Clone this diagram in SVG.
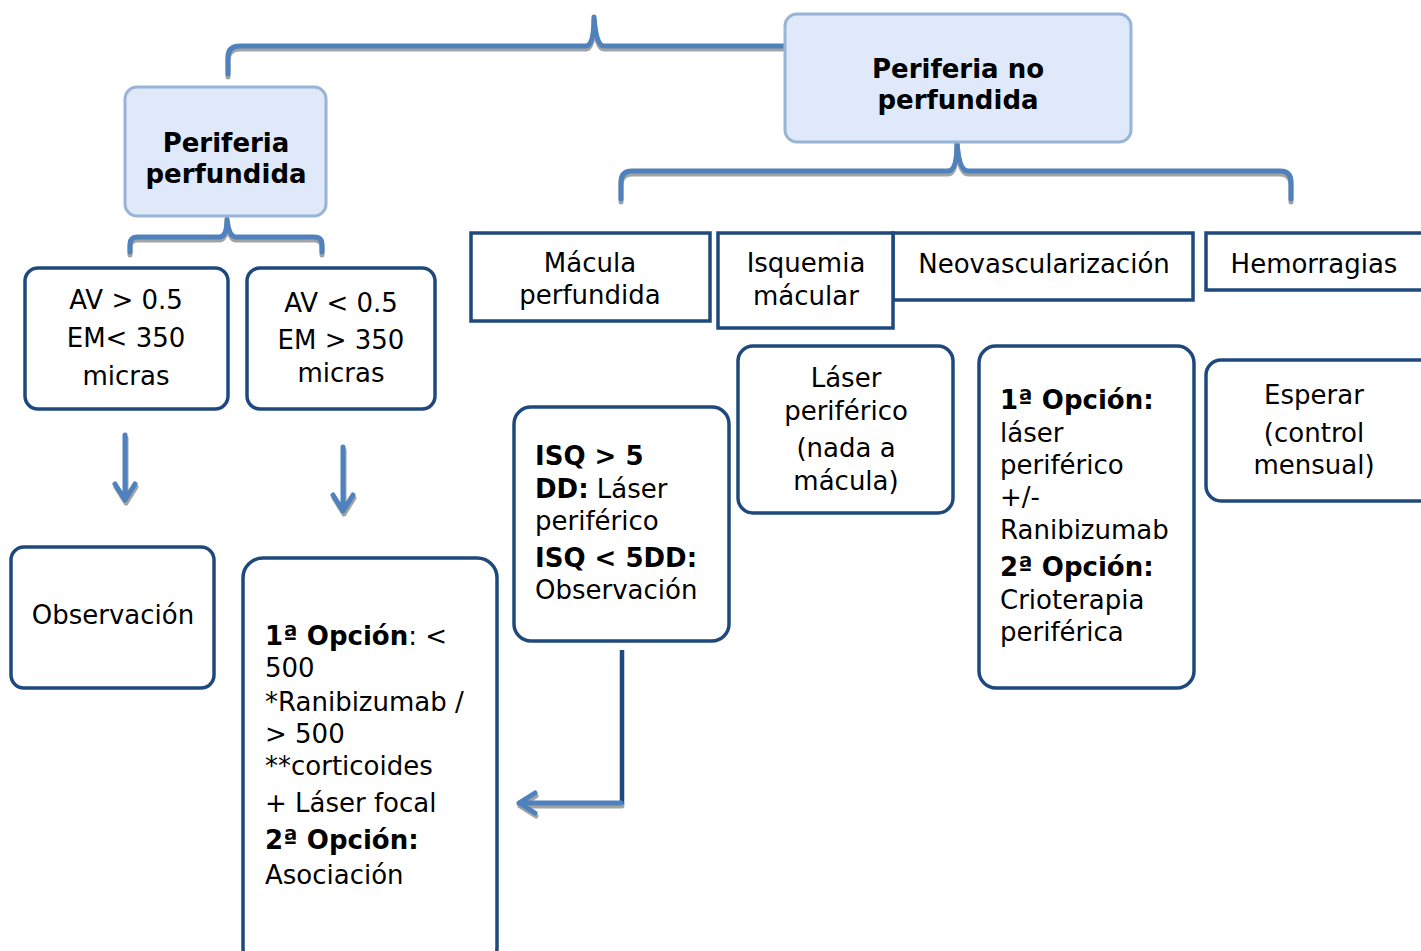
<svg xmlns="http://www.w3.org/2000/svg" width="1421" height="951" viewBox="0 0 1421 951">
<style>
text{font-family:"DejaVu Sans","Verdana",sans-serif;font-size:26px;fill:#000}
.b{font-weight:bold}
.c{text-anchor:middle}
.head{fill:#DFE9F9;stroke:#98B4D6;stroke-width:3}
.box{fill:#fff;stroke:#1F497D;stroke-width:3.5}
.ln{fill:none;stroke:#4F81BD;stroke-width:5;stroke-linecap:round;stroke-linejoin:round}
.sh{fill:none;stroke:#A3A3A3;stroke-width:5;stroke-linecap:round;stroke-linejoin:round}
.dk{fill:none;stroke:#1F497D;stroke-width:4.5}
</style>
<defs>
<path id="br1" d="M228,74 L228,57 Q228,46 240,46 L586,46 Q594,46 594,17 Q596,46 604,46 L786,46"/>
<path id="br2" d="M621,199 L621,182 Q621,171 632,171 L948,171 Q957,171 957,142 Q959,171 968,171 L1280,171 Q1291,171 1291,182 L1291,199"/>
<path id="br3" d="M130,252 L130,244 Q130,237 138,237 L219,237 Q227,237 227,219 Q229,237 236,237 L314,237 Q322,237 322,244 L322,252"/>
<path id="ar1" d="M125,435 L125,500 M115,484 L125,500 L135,484"/>
<path id="ar2" d="M343,447 L343,511 M333,495 L343,511 L353,495"/>
<path id="ar3" d="M621,803 L519,803 M535,793 L519,803 L535,813"/>
</defs>
<g id="connectors">
<use href="#br1" class="sh" transform="translate(0,3)"/>
<use href="#br1" class="ln"/>
<use href="#br2" class="sh" transform="translate(0,3)"/>
<use href="#br2" class="ln"/>
<use href="#br3" class="sh" transform="translate(0,3)"/>
<use href="#br3" class="ln"/>
<use href="#ar1" class="sh" transform="translate(1,3)"/>
<use href="#ar1" class="ln"/>
<use href="#ar2" class="sh" transform="translate(1,3)"/>
<use href="#ar2" class="ln"/>
<path class="dk" d="M622,650 L622,805"/>
<use href="#ar3" class="sh" transform="translate(1,3)"/>
<use href="#ar3" class="ln"/>
</g>
<g id="n-no-perf">
<rect class="head" x="785" y="14" width="346" height="128" rx="12"/>
<text class="b c" x="958" y="78">Periferia no</text>
<text class="b c" x="958" y="109">perfundida</text>
</g>
<g id="n-perf">
<rect class="head" x="125" y="87" width="201" height="129" rx="12"/>
<text class="b c" x="226" y="152">Periferia</text>
<text class="b c" x="226" y="183">perfundida</text>
</g>
<g id="n-av1">
<rect class="box" x="25" y="268" width="203" height="141" rx="13"/>
<text class="c" x="126" y="309">AV &gt; 0.5</text>
<text class="c" x="126" y="347">EM&lt; 350</text>
<text class="c" x="126" y="385">micras</text>
</g>
<g id="n-av2">
<rect class="box" x="247" y="268" width="188" height="141" rx="13"/>
<text class="c" x="341" y="312">AV &lt; 0.5</text>
<text class="c" x="341" y="349">EM &gt; 350</text>
<text class="c" x="341" y="382">micras</text>
</g>
<g id="n-obs">
<rect class="box" x="11" y="547" width="203" height="141" rx="13"/>
<text class="c" x="113" y="624">Observación</text>
</g>
<g id="n-opc">
<rect class="box" x="243" y="558" width="254" height="410" rx="20"/>
<text x="265" y="645"><tspan class="b">1ª Opción</tspan>: &lt;</text>
<text x="265" y="677">500</text>
<text x="265" y="711">*Ranibizumab /</text>
<text x="265" y="743">&gt; 500</text>
<text x="265" y="775">**corticoides</text>
<text x="265" y="812">+ Láser focal</text>
<text class="b" x="265" y="849">2ª Opción:</text>
<text x="265" y="884">Asociación</text>
</g>
<g id="n-macula">
<rect class="box" x="471" y="233" width="239" height="88"/>
<text class="c" x="590" y="272">Mácula</text>
<text class="c" x="590" y="304">perfundida</text>
</g>
<g id="n-neo">
<rect class="box" x="893" y="233" width="300" height="67"/>
<text class="c" x="1044" y="273">Neovascularización</text>
</g>
<g id="n-isq">
<rect class="box" x="718" y="233" width="175" height="95"/>
<text class="c" x="806" y="272">Isquemia</text>
<text class="c" x="806" y="305">mácular</text>
</g>
<g id="n-hem">
<rect class="box" x="1206" y="233" width="230" height="57"/>
<text class="c" x="1314" y="273">Hemorragias</text>
</g>
<g id="n-laser">
<rect class="box" x="738" y="346" width="215" height="167" rx="15"/>
<text class="c" x="846" y="387">Láser</text>
<text class="c" x="846" y="420">periférico</text>
<text class="c" x="846" y="457">(nada a</text>
<text class="c" x="846" y="490">mácula)</text>
</g>
<g id="n-isqdd">
<rect class="box" x="514" y="407" width="215" height="234" rx="17"/>
<text class="b" x="535" y="465">ISQ &gt; 5</text>
<text x="535" y="498"><tspan class="b">DD:</tspan> Láser</text>
<text x="535" y="530">periférico</text>
<text class="b" x="535" y="567">ISQ &lt; 5DD:</text>
<text x="535" y="599">Observación</text>
</g>
<g id="n-neoopc">
<rect class="box" x="979" y="346" width="215" height="342" rx="17"/>
<text class="b" x="1000" y="409">1ª Opción:</text>
<text x="1000" y="442">láser</text>
<text x="1000" y="474">periférico</text>
<text x="1000" y="506">+/-</text>
<text x="1000" y="539">Ranibizumab</text>
<text class="b" x="1000" y="576">2ª Opción:</text>
<text x="1000" y="609">Crioterapia</text>
<text x="1000" y="641">periférica</text>
</g>
<g id="n-esperar">
<rect class="box" x="1206" y="360" width="230" height="141" rx="15"/>
<text class="c" x="1314" y="404">Esperar</text>
<text class="c" x="1314" y="442">(control</text>
<text class="c" x="1314" y="474">mensual)</text>
</g>
</svg>
